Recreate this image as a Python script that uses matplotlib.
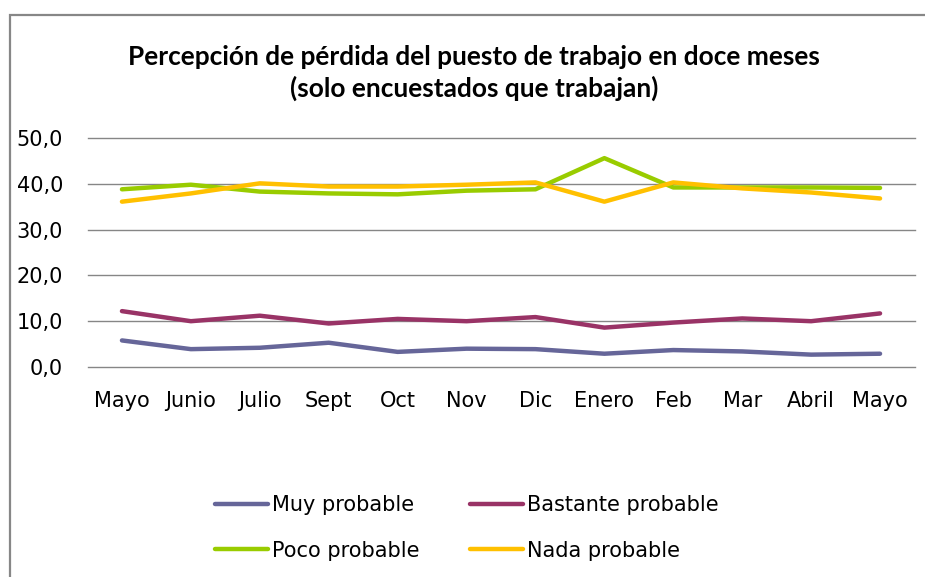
import matplotlib
matplotlib.use('Agg')
import matplotlib.pyplot as plt
from matplotlib.patches import Rectangle

plt.rcParams['font.family'] = ['DejaVu Sans']

# Data
months = ['Mayo', 'Junio', 'Julio', 'Sept', 'Oct', 'Nov', 'Dic',
          'Enero', 'Feb', 'Mar', 'Abril', 'Mayo']
muy = [5.8, 3.9, 4.2, 5.3, 3.3, 4.0, 3.9, 2.9, 3.7, 3.4, 2.7, 2.9]
bastante = [12.2, 10.0, 11.2, 9.5, 10.5, 10.0, 10.9, 8.6, 9.7, 10.6, 10.0, 11.7]
poco = [38.8, 39.8, 38.3, 37.9, 37.7, 38.5, 38.8, 45.6, 39.2, 39.2, 39.2, 39.1]
nada = [36.1, 37.9, 40.1, 39.4, 39.4, 39.8, 40.3, 36.1, 40.3, 39.0, 38.1, 36.8]

fig = plt.figure(figsize=(9.25, 5.77), dpi=100)

# Chart frame: only its top and left edges fall inside the picture
fig.patches.append(Rectangle((10 / 925, -0.1), 1.2, 1.1 - 15 / 577, transform=fig.transFigure,
                             fill=False, edgecolor='#878787', linewidth=1.6))

ax = fig.add_axes([87.5 / 925, (577 - 367) / 577, 827 / 925, 229 / 577])

x = range(len(months))
l1, = ax.plot(x, muy, color='#666699', linewidth=3.2, label='Muy probable', solid_capstyle='round')
l2, = ax.plot(x, bastante, color='#993366', linewidth=3.2, label='Bastante probable', solid_capstyle='round')
l3, = ax.plot(x, poco, color='#99CC00', linewidth=3.2, label='Poco probable', solid_capstyle='round')
l4, = ax.plot(x, nada, color='#FFC000', linewidth=3.2, label='Nada probable', solid_capstyle='round')

ax.set_xlim(-0.5, len(months) - 0.5)
ax.set_ylim(0, 50)
ax.set_yticks(range(0, 51, 10))
ax.set_yticklabels([f'{v},0' for v in range(0, 51, 10)], fontsize=15)
ax.set_xticks(list(x))
ax.set_xticklabels(months, fontsize=15)
ax.tick_params(axis='both', length=0, colors='#000000')
ax.tick_params(axis='y', pad=17.5)
ax.tick_params(axis='x', pad=17)

ax.grid(axis='y', color='#868686', linewidth=1)
for g in ax.yaxis.get_gridlines():
    g.set_clip_on(False)
ax.set_axisbelow(True)
for s in ax.spines.values():
    s.set_visible(False)

# Title
fig.text(474 / 925, 1 - 73 / 577,
         'Percepción de pérdida del puesto de trabajo en doce meses\n(solo encuestados que trabajan)',
         ha='center', va='center', fontsize=18.9, fontweight='bold',
         family=['Lato', 'DejaVu Sans'], linespacing=1.3)

# Legend
fig.legend(handles=[l1, l3, l2, l4], loc='center left', ncol=2,
           bbox_to_anchor=(215 / 925, 1 - 528 / 577), frameon=False,
           fontsize=15, handlelength=2.55, handletextpad=0.2,
           columnspacing=2.4, labelspacing=1.22, borderpad=0, borderaxespad=0)

plt.savefig('out.png', dpi=100)
